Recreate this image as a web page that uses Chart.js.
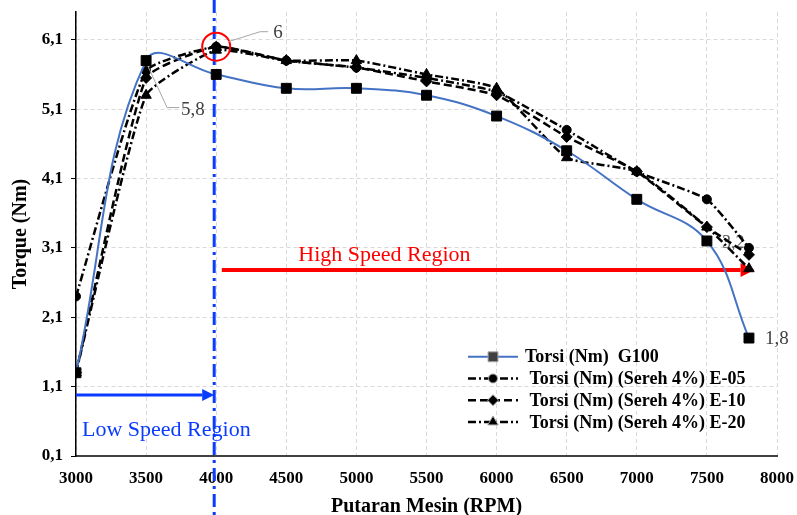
<!DOCTYPE html>
<html>
<head>
<meta charset="utf-8">
<script src="https://cdn.jsdelivr.net/npm/chart.js@4.4.1/dist/chart.umd.min.js"></script>
<style>
  html, body { margin: 0; padding: 0; background: #fff; }
  #wrap { width: 797px; height: 515px; }
</style>
</head>
<body>
<div id="wrap"><canvas id="torqueChart" width="797" height="515"></canvas></div>
<script>
// ── DATA ──
const RPM = [3000, 3500, 4000, 4500, 5000, 5500, 6000, 6500, 7000, 7500, 7800];
const G100 = [1.3, 5.8, 5.6, 5.4, 5.4, 5.3, 5.0, 4.5, 3.8, 3.2, 1.8];
const E05  = [2.4, 5.65, 6.0, 5.8, 5.7, 5.55, 5.35, 4.8, 4.2, 3.8, 3.1];
const E10  = [1.3, 5.55, 6.0, 5.8, 5.7, 5.5, 5.3, 4.7, 4.2, 3.4, 3.0];
const E20  = [1.3, 5.3, 5.95, 5.8, 5.8, 5.6, 5.4, 4.4, 4.2, 3.4, 2.8];
const Y_TICKS = [0.1, 1.1, 2.1, 3.1, 4.1, 5.1, 6.1];
const SERIES_NAMES = [
  'Torsi (Nm)  G100',
  ' Torsi (Nm) (Sereh 4%) E-05',
  ' Torsi (Nm) (Sereh 4%) E-10',
  ' Torsi (Nm) (Sereh 4%) E-20'
];
const BOUNDARY_RPM = 4000;
const LOW_ARROW_Y = 0.98;
const HIGH_ARROW = { from: 4040, to: 7840, y: 2.78 };

const SERIF = '"Liberation Serif", "Times New Roman", serif';
const BLUE_MARK = '#0a3cff';

const pts = (ys) => RPM.map((x, i) => ({ x, y: ys[i] }));
const fmt = (v) => v.toFixed(1).replace('.', ',');

function arrow(ctx, x1, y1, x2, y2, color, w, head) {
  ctx.save();
  ctx.strokeStyle = color;
  ctx.fillStyle = color;
  ctx.lineWidth = w;
  ctx.setLineDash([]);
  ctx.beginPath();
  ctx.moveTo(x1, y1);
  ctx.lineTo(x2 - head, y2);
  ctx.stroke();
  ctx.beginPath();
  ctx.moveTo(x2, y2);
  ctx.lineTo(x2 - head, y2 - head * 0.5);
  ctx.lineTo(x2 - head, y2 + head * 0.5);
  ctx.closePath();
  ctx.fill();
  ctx.restore();
}

// ── ANNOTATIONS ──
const annotations = {
  id: 'annotations',
  beforeDatasetsDraw(chart) {
    const { ctx, scales: { x, y } } = chart;
    const bx = x.getPixelForValue(BOUNDARY_RPM) - 2;

    // boundary line
    ctx.save();
    ctx.strokeStyle = BLUE_MARK;
    ctx.lineWidth = 3;
    ctx.setLineDash([13, 5, 3, 5]);
    ctx.beginPath();
    ctx.moveTo(bx, 0);
    ctx.lineTo(bx, chart.height);
    ctx.stroke();
    ctx.restore();

    // low speed arrow + text
    const ly = y.getPixelForValue(LOW_ARROW_Y);
    arrow(ctx, x.getPixelForValue(3000), ly, bx, ly, BLUE_MARK, 3, 12);
    ctx.save();
    ctx.font = '22px ' + SERIF;
    ctx.fillStyle = BLUE_MARK;
    ctx.textBaseline = 'middle';
    ctx.fillText('Low Speed Region', x.getPixelForValue(3000) + 6, y.getPixelForValue(0.47));

    // high speed arrow + text
    const hy = y.getPixelForValue(HIGH_ARROW.y);
    arrow(ctx, x.getPixelForValue(HIGH_ARROW.from), hy, x.getPixelForValue(HIGH_ARROW.to), hy, '#ff0000', 4, 14);
    ctx.fillStyle = '#ff0000';
    ctx.font = '22px ' + SERIF;
    ctx.textAlign = 'center';
    ctx.fillText('High Speed Region', x.getPixelForValue(5200), y.getPixelForValue(3.0));

    // partly hidden label of G100 at 7500
    ctx.fillStyle = '#595959';
    ctx.font = '18px ' + SERIF;
    ctx.textAlign = 'left';
    ctx.fillText(fmt(G100[9]), x.getPixelForValue(RPM[9]) + 15, y.getPixelForValue(G100[9]) + 2);
    ctx.restore();
  },
  afterDatasetsDraw(chart) {
    const { ctx, scales: { x, y } } = chart;
    ctx.save();

    // red circle around the peak
    const px = x.getPixelForValue(RPM[2]);
    const py = y.getPixelForValue(E05[2]);
    ctx.strokeStyle = '#ff0000';
    ctx.lineWidth = 2;
    ctx.beginPath();
    ctx.arc(px, py, 14, 0, Math.PI * 2);
    ctx.stroke();

    // leader lines
    ctx.strokeStyle = '#a6a6a6';
    ctx.lineWidth = 1;
    ctx.beginPath();
    ctx.moveTo(px + 12, py - 5);
    ctx.lineTo(px + 44, py - 15);
    ctx.lineTo(px + 52, py - 15);
    const sx = x.getPixelForValue(RPM[1]);
    const sy = y.getPixelForValue(G100[1]);
    ctx.moveTo(sx + 2, sy + 6);
    ctx.lineTo(sx + 21, sy + 47);
    ctx.lineTo(sx + 33, sy + 47);
    ctx.stroke();

    ctx.fillStyle = '#404040';
    ctx.font = '19px ' + SERIF;
    ctx.textBaseline = 'middle';
    ctx.fillText(String(Math.round(E05[2])), px + 57, py - 14);
    ctx.fillText(fmt(G100[1]), sx + 35, sy + 49);
    const lx = x.getPixelForValue(RPM[10]);
    const lyy = y.getPixelForValue(G100[10]);
    ctx.fillText(fmt(G100[10]), lx + 16, lyy + 1);

    // legend
    const left = x.getPixelForValue(3000) + 392;
    let rowY = y.getPixelForValue(1.53);
    chart.data.datasets.forEach((ds, i) => {
      ctx.save();
      ctx.strokeStyle = ds.borderColor;
      ctx.lineWidth = ds.borderWidth;
      ctx.setLineDash(ds.borderDash || []);
      ctx.beginPath();
      ctx.moveTo(left, rowY);
      ctx.lineTo(left + 50, rowY);
      ctx.stroke();
      ctx.restore();
      Chart.helpers.drawPoint(ctx, {
        pointStyle: ds.pointStyle, radius: ds.pointRadius, rotation: 0, borderWidth: 1
      }, left + 25, rowY);
      ctx.fillStyle = '#000';
      ctx.font = 'bold 18px ' + SERIF;
      ctx.fillText(SERIES_NAMES[i], left + 57, rowY + 1);
      rowY += 21.7;
    });
    ctx.restore();
  }
};

const common = {
  pointBackgroundColor: '#000',
  pointBorderColor: '#000',
  pointBorderWidth: 1,
  fill: false
};

new Chart(document.getElementById('torqueChart'), {
  type: 'line',
  data: {
    datasets: [
      { ...common, label: SERIES_NAMES[0], data: pts(G100), borderColor: '#4472c4', borderWidth: 2,
        pointStyle: 'rect', pointRadius: 7, borderDash: [], tension: 0.4 },
      { ...common, label: SERIES_NAMES[1], data: pts(E05), borderColor: '#000', borderWidth: 2.5,
        pointStyle: 'circle', pointRadius: 4.5, borderDash: [8, 3, 2, 3], tension: 0.15 },
      { ...common, label: SERIES_NAMES[2], data: pts(E10), borderColor: '#000', borderWidth: 2.5,
        pointStyle: 'rectRot', pointRadius: 5.5, borderDash: [8, 4], tension: 0.15 },
      { ...common, label: SERIES_NAMES[3], data: pts(E20), borderColor: '#000', borderWidth: 2.5,
        pointStyle: 'triangle', pointRadius: 6, borderDash: [8, 3, 2, 3], tension: 0.15 }
    ]
  },
  options: {
    responsive: false,
    animation: false,
    devicePixelRatio: 1,
    layout: { padding: { left: 0, right: 20, top: 12, bottom: 0 } },
    plugins: { legend: { display: false }, tooltip: { enabled: false } },
    scales: {
      x: {
        type: 'linear', min: 3000, max: 8000,
        ticks: { stepSize: 500, color: '#000', padding: 12,
          font: { family: SERIF, size: 17, weight: 'bold' }, callback: v => String(v) },
        grid: { color: '#d9d9d9', drawTicks: false },
        border: { color: '#404040', width: 2, dash: [4, 3] },
        title: { display: true, text: 'Putaran Mesin (RPM)', color: '#000',
          font: { family: SERIF, size: 20, weight: 'bold' }, padding: { top: 0, bottom: -4 } },
        afterFit: s => { s.height = 59; s.paddingLeft = 0; s.paddingRight = 0; }
      },
      y: {
        type: 'linear', min: 0.1, max: 6.5,
        afterBuildTicks: s => { s.ticks = Y_TICKS.map(v => ({ value: v })); },
        ticks: { color: '#000', padding: 8,
          font: { family: SERIF, size: 17, weight: 'bold' }, callback: v => fmt(v) },
        grid: { color: '#d9d9d9', tickLength: 5, tickColor: '#000', tickBorderDash: [] },
        border: { color: '#000', width: 1.5, dash: [4, 3] },
        title: { display: true, text: 'Torque (Nm)', color: '#000',
          font: { family: SERIF, size: 20, weight: 'bold' }, padding: { top: 9, bottom: 0 } },
        afterFit: s => { s.width = 76; s.paddingTop = 0; s.paddingBottom = 0; }
      }
    }
  },
  plugins: [annotations]
});
</script>
</body>
</html>
